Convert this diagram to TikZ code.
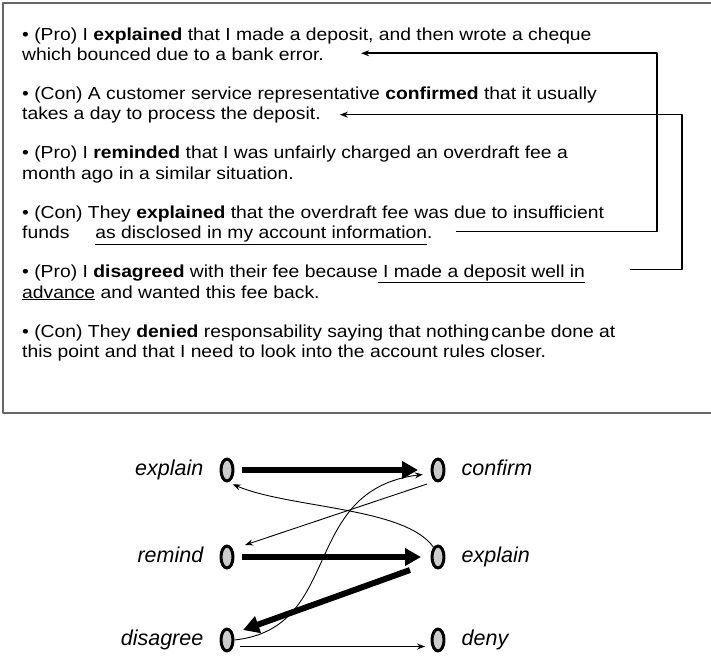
\documentclass[tikz,border=0pt]{standalone}
\usepackage{fontspec}
\setmainfont{Liberation Sans}
\newfontfamily\dlgfont{Liberation Sans}[FakeStretch=1.11]
\usetikzlibrary{arrows.meta,shapes.geometric}
\begin{document}
\begin{tikzpicture}[x=1pt,y=-1pt,line join=round,
    txt/.style={anchor=base west,inner sep=0pt,text height=12pt,text depth=3.5pt,
        font=\dlgfont\fontsize{17.4}{20}\selectfont},
    link/.style={line width=1.6pt,-{Stealth[length=8pt,width=6pt]}},
    state/.style={ellipse,draw,line width=3pt,fill=gray!40,
        minimum width=12pt,minimum height=22pt,inner sep=0pt},
    lab/.style={inner sep=0pt,text height=15pt,text depth=4.5pt,
        font=\fontsize{21.5}{24}\selectfont\itshape},
    heavy/.style={line width=6pt,-{Triangle[length=16pt,width=17pt]}},
    light/.style={line width=0.9pt,-{Stealth[length=8pt,width=6pt]}}]
\useasboundingbox (0,0) rectangle (711,657);
\def\lx{22} \def\by{40} \def\gap{59.4} \def\ls{20.5}
% frame round the dialogue
\draw[line width=1.5pt,black!60] (711,3) -| (3,413) -- (711,413);

% dialogue turns
\node[txt] (p1a) at (\lx,\by) {• (Pro) I \textbf{explained} that I made a deposit, and then wrote a cheque};
\node[txt] (p1b) at (\lx,\by+\ls) {which bounced due to a bank error.};
\node[txt] (p2a) at (\lx,\by+\gap) {• (Con) A customer service representative \textbf{confirmed} that it usually};
\node[txt] (p2b) at (\lx,\by+\gap+\ls) {takes a day to process the deposit.};
\node[txt] (p3a) at (\lx,\by+2*\gap) {• (Pro) I \textbf{reminded} that I was unfairly charged an overdraft fee a};
\node[txt] (p3b) at (\lx,\by+2*\gap+\ls) {month ago in a similar situation.};
\node[txt] (p4a) at (\lx,\by+3*\gap) {• (Con) They \textbf{explained} that the overdraft fee was due to insufficient};
\node[txt] (p4b) at (\lx,\by+3*\gap+\ls) {funds\hspace{26pt}\underline{as disclosed in my account information}.};
\node[txt] (p5a) at (\lx,\by+4*\gap) {• (Pro) I \textbf{disagreed} with their fee because\underline{\ I made a deposit well in}};
\node[txt] (p5b) at (\lx,\by+4*\gap+\ls) {\underline{advance} and wanted this fee back.};
\node[txt] (p6a) at (\lx,\by+5*\gap) {• (Con) They \textbf{denied} responsability saying that nothing\hspace{2pt}can\hspace{1.5pt}be done at};
\node[txt] (p6b) at (\lx,\by+5*\gap+\ls) {this point and that I need to look into the account rules closer.};

% back references
\coordinate (railA) at (657,0);
\coordinate (railB) at (682,0);
\coordinate (fromA) at ([xshift=23pt,yshift=3pt]p4b.east);
\coordinate (toA) at ([xshift=37pt,yshift=3pt]p1b.east);
\coordinate (fromB) at ([xshift=45pt,yshift=4pt]p5a.east);
\coordinate (toB) at ([xshift=19pt,yshift=1pt]p2b.east);
\draw[link] (fromA) -| (railA |- toA) -- (toA);
\draw[link] (fromB) -| (railB |- toB) -- (toB);

% act graph
\node[state,label={[lab,label distance=16pt]left:explain}] (explainA) at (227,470) {};
\node[state,label={[lab,label distance=16pt]left:remind}] (remind) at (227,557) {};
\node[state,label={[lab,label distance=16pt]left:disagree}] (disagree) at (227,640) {};
\node[state,label={[lab,label distance=16pt]right:confirm}] (confirm) at (438,470) {};
\node[state,label={[lab,label distance=16pt]right:explain}] (explainB) at (438,557) {};
\node[state,label={[lab,label distance=16pt]right:deny}] (deny) at (438,640) {};

\draw[heavy] ([xshift=15pt]explainA.center) -- ([xshift=-20pt]confirm.center);
\draw[heavy] ([xshift=15pt]remind.center) -- ([xshift=-17pt]explainB.center);
\draw[heavy] ([xshift=-28pt,yshift=-13pt]explainB.center) -- ([xshift=16pt,yshift=10pt]disagree.center);
\draw[light] ([xshift=13pt,yshift=-6.5pt]disagree.center) -- ([xshift=-13pt,yshift=-6.5pt]deny.center);
\draw[light] ([xshift=-11pt,yshift=-14pt]confirm.center) -- ([xshift=18pt,yshift=12pt]remind.center);
\draw[light,shorten >=5pt] (explainB.115) .. controls +(-28,-40) and +(62,26) .. (explainA.-85);
\draw[light,shorten >=8pt] (disagree.east) .. controls +(110,-12) and +(-132,17) .. (confirm.205);
\end{tikzpicture}
\end{document}
